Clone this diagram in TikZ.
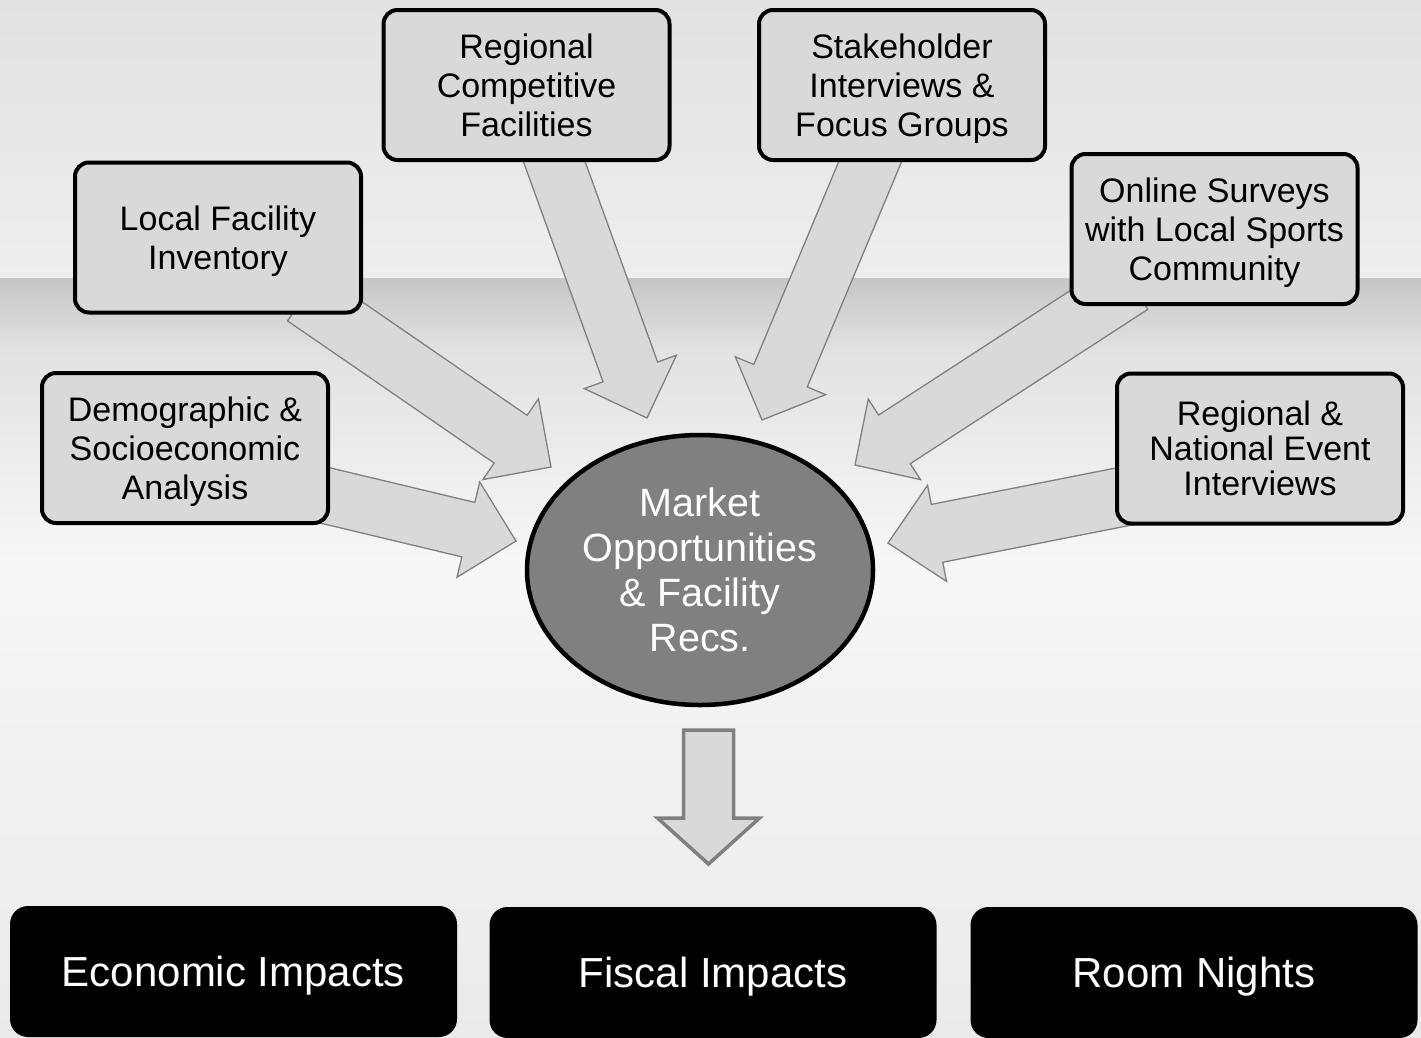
\documentclass[tikz,border=0pt]{standalone}
\usepackage{fontspec}
\setmainfont{Liberation Sans}
\usetikzlibrary{calc,shapes.geometric}
\definecolor{boxgray}{RGB}{217,217,217}
\definecolor{ellgray}{RGB}{128,128,128}
\definecolor{edgegray}{RGB}{128,128,128}
\definecolor{skytop}{RGB}{226,226,226}
\definecolor{skybot}{RGB}{238,238,238}
\definecolor{bandtop}{RGB}{198,198,198}
\definecolor{bandbot}{RGB}{226,226,226}
\definecolor{sandmid}{RGB}{247,247,247}
\definecolor{sandbot}{RGB}{234,234,234}
% line without depth, so that a descender does not shift the block
\newcommand{\nd}[1]{\raisebox{0pt}[\height][0pt]{#1}}
% block arrow: #1 style, #2 start, #3 tip, #4 shaft half width, #5 head half width, #6 head length
\newcommand{\blockarr}[6]{%
  \draw[#1] ($(#2)!#4!90:(#3)$) -- ($(#3)!#6!(#2)!#4!90:(#3)$) -- ($(#3)!#6!(#2)!#5!90:(#3)$) -- (#3)
    -- ($(#3)!#6!(#2)!#5!-90:(#3)$) -- ($(#3)!#6!(#2)!#4!-90:(#3)$) -- ($(#2)!#4!-90:(#3)$) -- cycle;}
\tikzset{
  srcbox/.style={draw=black, line width=4pt, fill=boxgray, rounded corners=14pt,
    minimum width=286pt, minimum height=150pt, align=center, inner sep=0pt,
    font={\fontsize{34}{39}\selectfont}},
  outbox/.style={fill=black, rounded corners=18pt, minimum width=447pt, minimum height=131pt,
    text=white, inner sep=0pt, font={\fontsize{42}{48}\selectfont}},
  thinarrow/.style={fill=boxgray, draw=edgegray, line width=1.3pt, line join=miter},
  thickarrow/.style={fill=boxgray, draw=edgegray, line width=3.5pt, line join=miter},
}
\begin{document}
\begin{tikzpicture}[x=1pt,y=-1pt]
\useasboundingbox (0,0) rectangle (1421,1037);
% background (beach photo approximated)
\shade[top color=skytop, bottom color=skybot] (0,0) rectangle (1421,279);
\shade[top color=bandtop, bottom color=bandbot] (0,278) rectangle (1421,351);
\shade[top color=bandbot, bottom color=sandmid] (0,350) rectangle (1421,560);
\shade[top color=sandmid, bottom color=sandbot] (0,559) rectangle (1421,1037);

% arrow anchor coordinates
\coordinate (sD) at (273,483);   \coordinate (tD) at (516,541);
\coordinate (sL) at (304,297);   \coordinate (tL) at (551,467);
\coordinate (sRC) at (545,136);  \coordinate (tRC) at (647,418);
\coordinate (sS) at (878,143);   \coordinate (tS) at (762,420);
\coordinate (sO) at (1132,285);  \coordinate (tO) at (855,465);
\coordinate (sRN) at (1182,485); \coordinate (tRN) at (888,543);
\coordinate (dTop) at (708.5,730); \coordinate (dTip) at (708.5,864);

\blockarr{thinarrow}{sD}{tD}{28pt}{49pt}{49pt}
\blockarr{thinarrow}{sL}{tL}{29pt}{49pt}{49pt}
\blockarr{thinarrow}{sRC}{tRC}{29pt}{49pt}{49pt}
\blockarr{thinarrow}{sS}{tS}{29pt}{49pt}{48pt}
\blockarr{thinarrow}{sO}{tO}{29pt}{48pt}{47pt}
\blockarr{thinarrow}{sRN}{tRN}{29.5pt}{49pt}{50pt}

% source boxes
\node[srcbox] (rc) at (526.5,85) {Regional\\Competitive\\Facilities};
\node[srcbox] (st) at (902,85) {Stakeholder\\Interviews \&\\\nd{Focus Groups}};
\node[srcbox] (lf) at (218,237.5) {Local Facility\\\nd{Inventory}};
\node[srcbox] (os) at (1214.5,229) {Online Surveys\\with Local Sports\\\nd{Community}};
\node[srcbox] (dm) at (185,448) {Demographic \&\\Socioeconomic\\\nd{Analysis}};
\node[srcbox, font={\fontsize{34}{35}\selectfont}] (rn) at (1260,448.5) {Regional \&\\National Event\\Interviews};

% centre ellipse
\node[draw=black, line width=4.5pt, fill=ellgray, ellipse, minimum width=346pt, minimum height=270pt, inner sep=0pt] (mk) at (700,570) {};
\node[text=white, align=center, font={\fontsize{39.5}{45}\selectfont}] (mkt) at (mk.center) {Market\\Opportunities\\\& Facility\\Recs.};

% down arrow
\blockarr{thickarrow}{dTop}{dTip}{25pt}{51pt}{46pt}

% outcome boxes
\node[outbox] (ec) at (233.5,971.5) {\nd{Economic Impacts}};
\node[outbox] (fi) at (713,972.5) {\nd{Fiscal Impacts}};
\node[outbox] (rm) at (1194,972.5) {\nd{Room Nights}};
\end{tikzpicture}
\end{document}
